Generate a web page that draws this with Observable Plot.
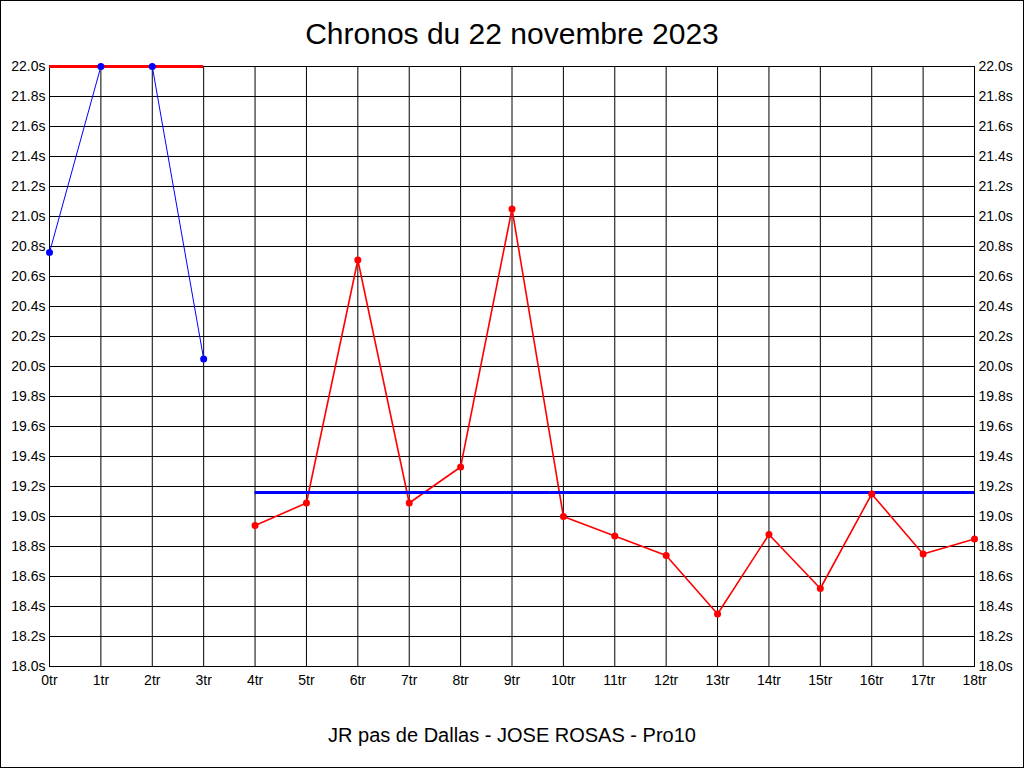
<!DOCTYPE html>
<html>
<head>
<meta charset="utf-8">
<script src="https://cdn.jsdelivr.net/npm/d3@7"></script>
<script src="https://cdn.jsdelivr.net/npm/@observablehq/plot@0.6"></script>
<style>
  html, body { margin: 0; padding: 0; background: white; }
  #chart { width: 1024px; height: 768px; }
</style>
</head>
<body>
<div id="chart"></div>
<script>
// ---- data ----
const title = "Chronos du 22 novembre 2023";
const caption = "JR pas de Dallas - JOSE ROSAS - Pro10";

const warmupLaps = [0, 1, 2, 3];
const warmupTimes = [20.76, 22.0, 22.0, 20.05];

const raceLaps = [4, 5, 6, 7, 8, 9, 10, 11, 12, 13, 14, 15, 16, 17, 18];
const raceTimes = [18.94, 19.09, 20.71, 19.09, 19.33, 21.05, 19.0, 18.87, 18.74, 18.35, 18.88, 18.52, 19.15, 18.75, 18.85];

const refStart = [0, 4];
const refEnd = [3, 18];
const refValue = [22.0, 19.16];
const refColor = ["#ff0000", "#0000ff"];

const xTicks = [0, 1, 2, 3, 4, 5, 6, 7, 8, 9, 10, 11, 12, 13, 14, 15, 16, 17, 18];
const yTicks = [18.0, 18.2, 18.4, 18.6, 18.8, 19.0, 19.2, 19.4, 19.6, 19.8, 20.0, 20.2, 20.4, 20.6, 20.8, 21.0, 21.2, 21.4, 21.6, 21.8, 22.0];

// ---- build tables ----
const warmup = warmupLaps.map((x, i) => ({x, y: warmupTimes[i]}));
const race = raceLaps.map((x, i) => ({x, y: raceTimes[i]}));
const refs = refValue.map((v, i) => ({x1: refStart[i], x2: refEnd[i], y: v, color: refColor[i]}));

const fmtY = d => d.toFixed(1) + "s";
const fmtX = d => d + "tr";

const plot = Plot.plot({
  width: 1024,
  height: 768,
  marginLeft: 49,
  marginRight: 50,
  marginTop: 66,
  marginBottom: 102,
  style: {fontFamily: "'Liberation Sans', Arial, sans-serif", fontSize: "14px", background: "white", color: "black"},
  x: {domain: [0, 18], axis: null},
  y: {domain: [18, 22], axis: null},
  marks: [
    Plot.ruleX(xTicks, {stroke: "black", strokeWidth: 1}),
    Plot.ruleY(yTicks, {stroke: "black", strokeWidth: 1}),
    Plot.frame({stroke: "black", strokeWidth: 1}),
    Plot.axisY({anchor: "left", ticks: yTicks, tickFormat: fmtY, tickSize: 0, tickPadding: 4, label: null, fontSize: 14}),
    Plot.axisY({anchor: "right", ticks: yTicks, tickFormat: fmtY, tickSize: 0, tickPadding: 4, label: null, fontSize: 14}),
    Plot.axisX({anchor: "bottom", ticks: xTicks, tickFormat: fmtX, tickSize: 0, tickPadding: 9, label: null, fontSize: 14}),
    Plot.line(warmup, {x: "x", y: "y", stroke: "#0000ff", strokeWidth: 1}),
    Plot.line(race, {x: "x", y: "y", stroke: "#ff0000", strokeWidth: 1.6}),
    Plot.ruleY(refs, {x1: "x1", x2: "x2", y: "y", stroke: "color", strokeWidth: 3}),
    Plot.dot(warmup, {x: "x", y: "y", fill: "#0000ff", r: 3.5}),
    Plot.dot(race, {x: "x", y: "y", fill: "#ff0000", r: 3.5})
  ]
});

const svg = d3.select(plot);
svg.append("rect")
  .attr("x", 0.5).attr("y", 0.5).attr("width", 1023).attr("height", 767)
  .attr("fill", "none").attr("stroke", "black").attr("stroke-width", 1);
svg.append("text")
  .attr("x", 512).attr("y", 44)
  .attr("text-anchor", "middle")
  .attr("font-size", 30)
  .attr("fill", "black")
  .text(title);
svg.append("text")
  .attr("x", 512).attr("y", 742)
  .attr("text-anchor", "middle")
  .attr("font-size", 20)
  .attr("fill", "black")
  .text(caption);

document.getElementById("chart").appendChild(plot);
</script>
</body>
</html>
